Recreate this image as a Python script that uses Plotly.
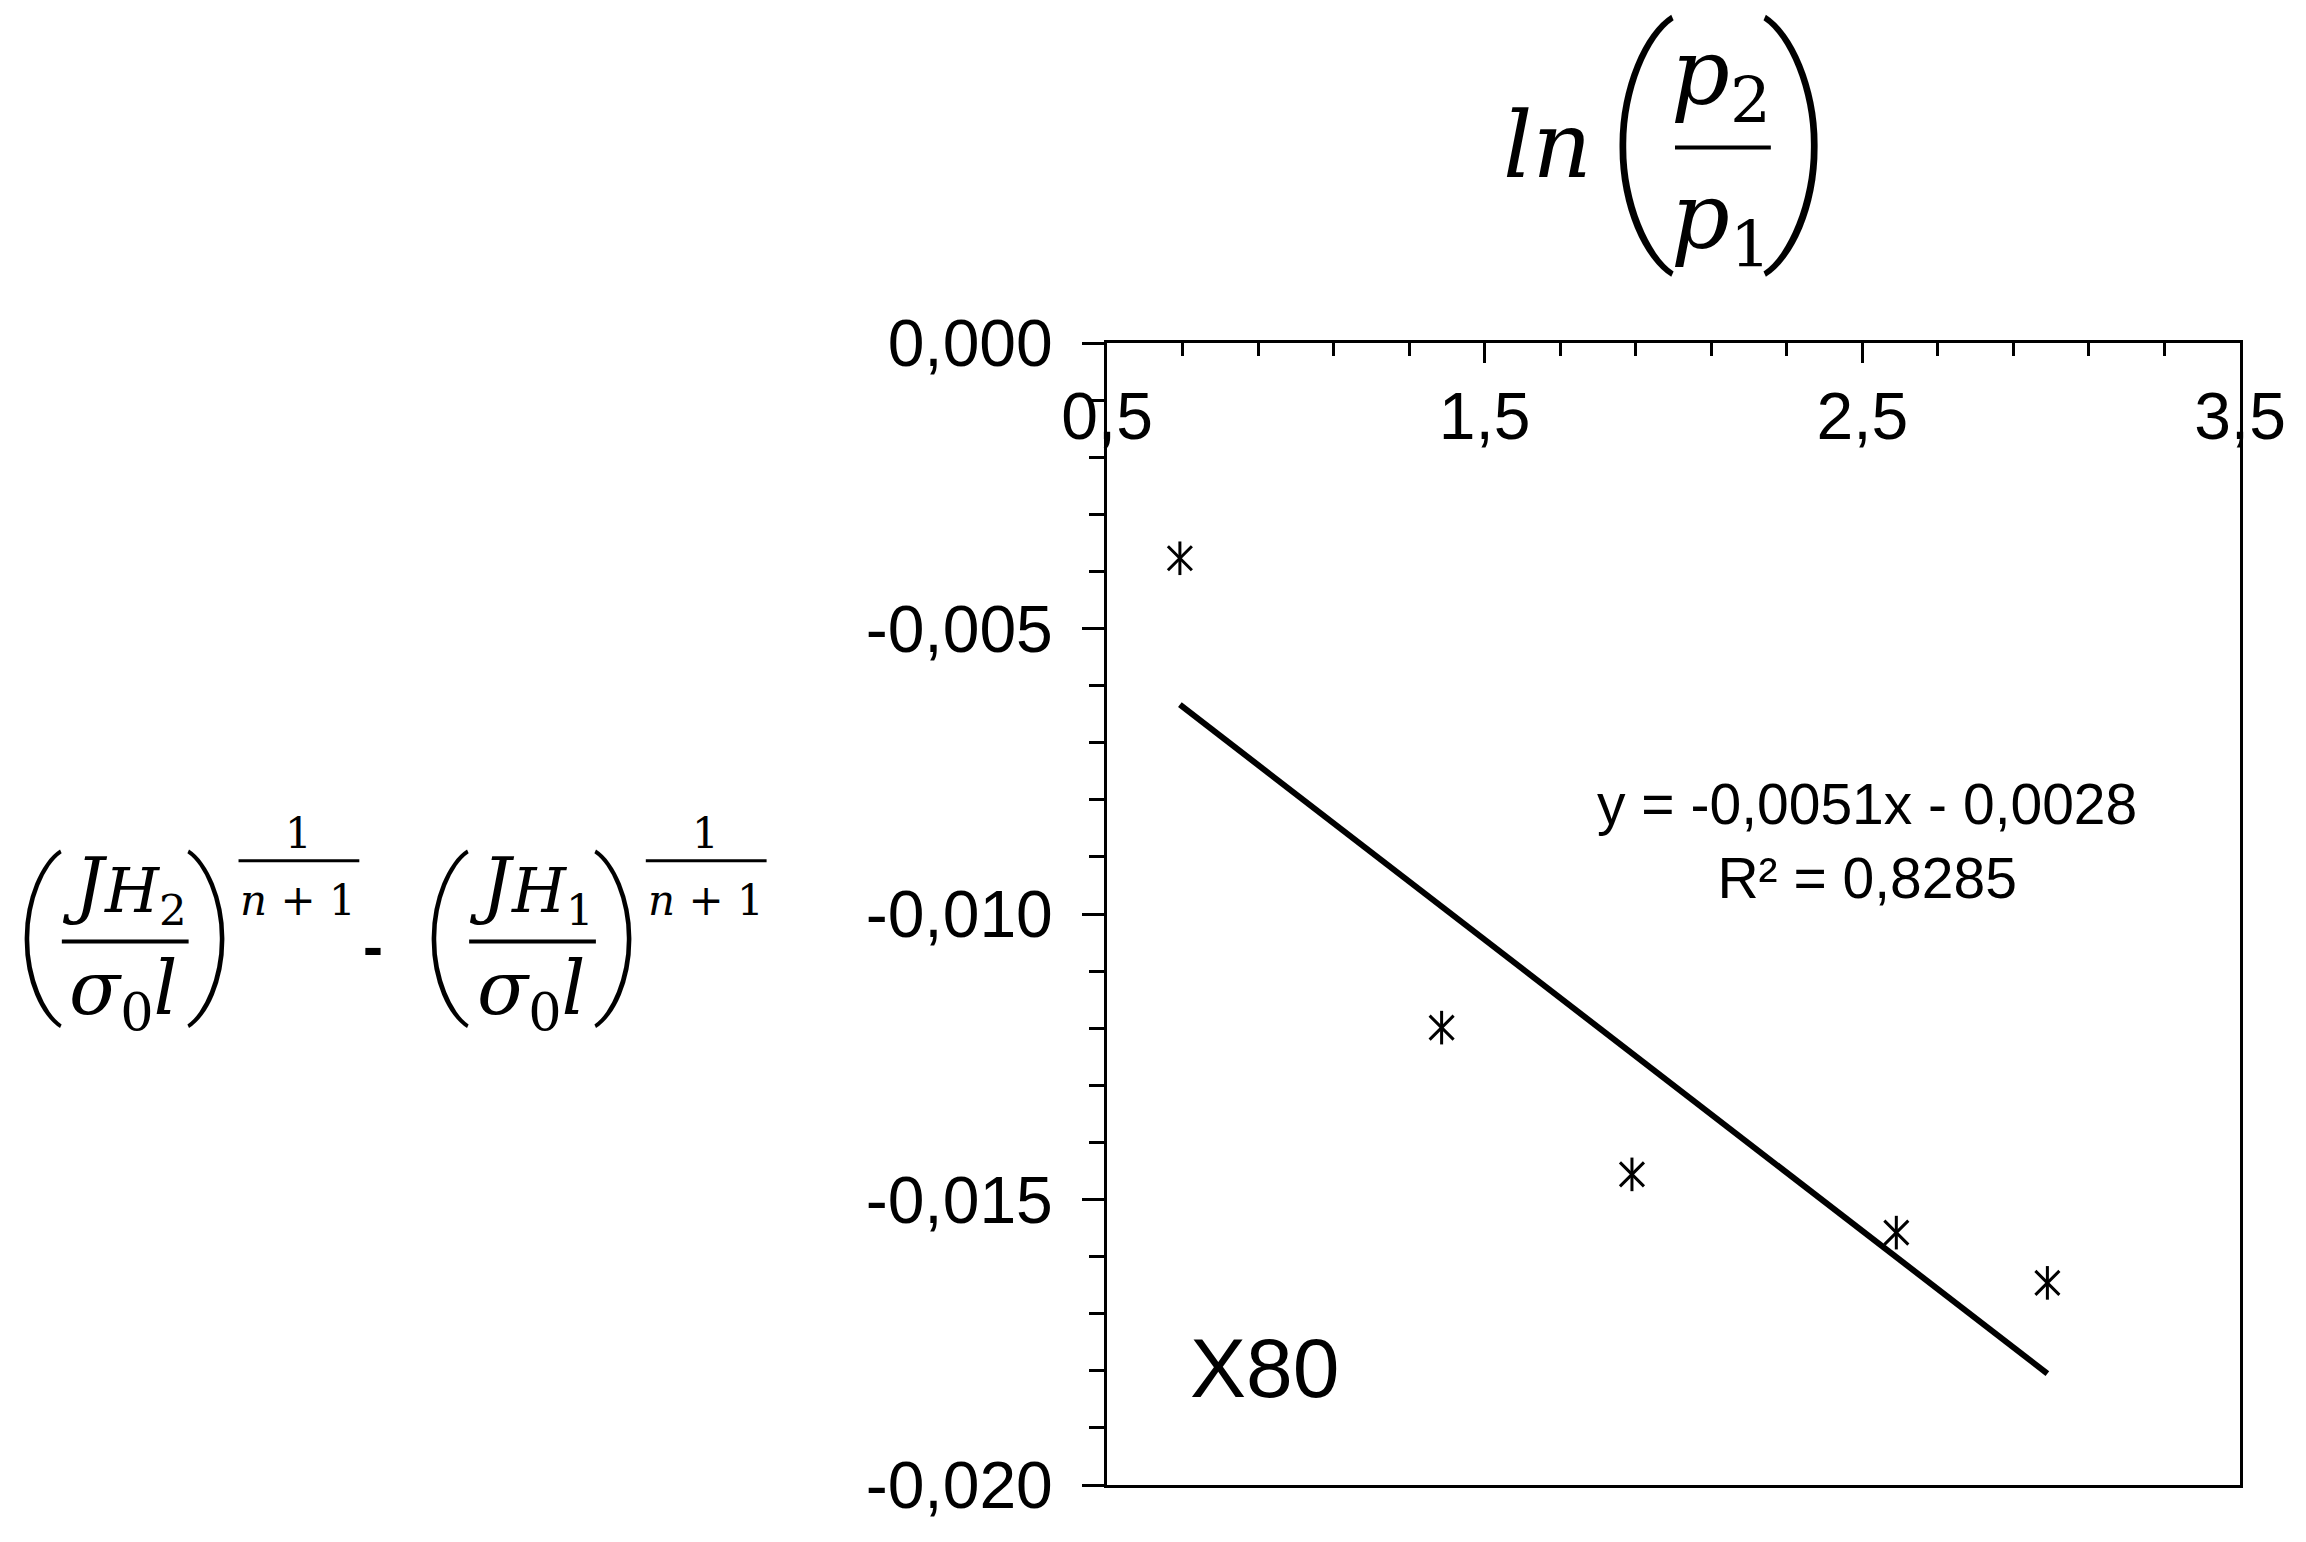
import numpy as np
import plotly.graph_objects as go

# dados
ln_p = [0.693, 1.386, 1.89, 2.59, 2.99]
delta_j = [-0.00377, -0.01199, -0.01456, -0.01558, -0.01646]

# linha de tendência (equação mostrada no gráfico)
slope = -0.0051
intercept = -0.0028
eq_text = "y = -0,0051x - 0,0028<br>R² = 0,8285"
steel_label = "X80"

y_tickvals = [0.0, -0.005, -0.010, -0.015, -0.020]
y_ticktext = ["0,000", "-0,005", "-0,010", "-0,015", "-0,020"]
x_tickvals = [0.5, 1.5, 2.5, 3.5]

# tamanho da janela e área do gráfico em pixels (página tem margem de 8 px)
W, H = 2306, 1542
PAD = 8
L, R, T, B = 1107, 2242, 343, 1488


def px_x(x):
    return (x - L) / (R - L)


def px_y(y):
    return (B - y) / (B - T)


fig = go.Figure()

x_line = np.array([min(ln_p), max(ln_p)])
fig.add_trace(go.Scatter(x=x_line, y=slope * x_line + intercept, mode='lines',
                         line=dict(color='black', width=6), hoverinfo='skip'))

# marcador tipo asterisco do Excel: X + traço vertical
for sym in ['x-thin-open', 'line-ns-open']:
    fig.add_trace(go.Scatter(x=ln_p, y=delta_j, mode='markers',
                             marker=dict(symbol=sym, size=24, color='black',
                                         line=dict(color='black', width=3))))

tick_font = dict(family='Liberation Sans, Arial', size=66, color='black')

fig.update_xaxes(range=[0.5, 3.5], side='top', tickmode='array', tickvals=x_tickvals,
                 tickformat='.1f', ticks='inside', ticklen=20, tickwidth=2.5, tickcolor='black',
                 minor=dict(dtick=0.2, tick0=0.5, ticks='inside', ticklen=13, tickwidth=2.5,
                            tickcolor='black'),
                 ticklabelposition='inside', ticklabeloverflow='allow', ticklabelstandoff=40,
                 showline=True, linewidth=3, linecolor='black', mirror=True,
                 showgrid=False, zeroline=False, tickfont=tick_font)

fig.update_yaxes(range=[-0.02, 0], tickmode='array', tickvals=y_tickvals, ticktext=y_ticktext,
                 ticks='outside', ticklen=22, tickwidth=2.5, tickcolor='black',
                 minor=dict(tickmode='linear', tick0=0, dtick=0.001, ticks='outside', ticklen=15,
                            tickwidth=2.5, tickcolor='black'),
                 ticklabelstandoff=16,
                 showline=True, linewidth=3, linecolor='black', mirror=True,
                 showgrid=False, zeroline=False, tickfont=tick_font)

ann = []
shapes = []


def txt(text, x, y, size, family='DejaVu Serif', xanchor='center', weight='normal'):
    ann.append(dict(text=text, x=px_x(x), y=px_y(y), xref='paper', yref='paper',
                    xanchor=xanchor, yanchor='middle', showarrow=False,
                    font=dict(family=family, size=size, color='black', weight=weight)))


def bar(x0, x1, y, w):
    shapes.append(dict(type='line', xref='paper', yref='paper', x0=px_x(x0), x1=px_x(x1),
                       y0=px_y(y), y1=px_y(y), line=dict(color='black', width=w)))


paren_font = 'Roboto'

# rótulo do eixo y (esquerda)
for dx, sub in [(0, '2'), (408, '1')]:
    txt('(', 36 + dx, 930, 175, paren_font, weight=100)
    txt('<i>J</i>', 58 + dx, 886, 72, xanchor='left')
    txt('<i>H</i><sub>%s</sub>' % sub, 100 + dx, 896, 62, xanchor='left')
    bar(60 + dx, 187 + dx, 943, 4)
    txt('<i>σ</i><sub>0</sub><i>l</i>', 122 + dx, 995, 75)
    txt(')', 210 + dx, 930, 175, paren_font, weight=100)
    txt('1', 297 + dx, 835, 42)
    bar(237 + dx, 358 + dx, 862, 3)
    txt('<i>n</i> + 1', 297 + dx, 902, 42)
txt('-', 372, 948, 60, 'Liberation Sans', weight='bold')

# rótulo do eixo x (topo)
txt('<i>ln</i>', 1548, 145, 92)
txt('(', 1640, 130, 256, paren_font, weight=100)
txt('<i>p</i><sub>2</sub>', 1722, 78, 92)
bar(1676, 1772, 147, 4)
txt('<i>p</i><sub>1</sub>', 1722, 222, 92)
txt(')', 1800, 130, 256, paren_font, weight=100)

# equação e nome do aço
ann.append(dict(text=eq_text, x=px_x(1868), y=px_y(842), xref='paper', yref='paper',
                xanchor='center', yanchor='middle', showarrow=False,
                font=dict(family='Liberation Sans, Arial', size=57, color='black')))
ann.append(dict(text=steel_label, x=px_x(1188), y=px_y(1371), xref='paper', yref='paper',
                xanchor='left', yanchor='middle', showarrow=False,
                font=dict(family='Liberation Sans, Arial', size=84, color='black')))

fig.update_layout(width=W - 2 * PAD, height=H - 2 * PAD,
                  margin=dict(l=L - PAD, r=W - PAD - R, t=T - PAD, b=H - PAD - B),
                  paper_bgcolor='white', plot_bgcolor='white', showlegend=False,
                  separators=', ', annotations=ann, shapes=shapes)

fig.write_html("out.html")
